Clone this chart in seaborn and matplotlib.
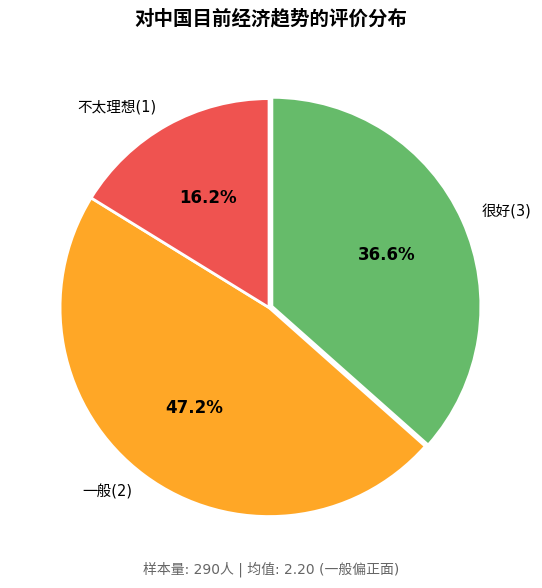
import matplotlib
matplotlib.use("Agg")
import matplotlib.pyplot as plt
import seaborn as sns

sns.set_theme(style="white")
plt.rcParams['font.family'] = ['DejaVu Sans', 'Noto Sans CJK SC']
plt.rcParams['text.color'] = 'black'

# 数据
labels = ['很好(3)', '一般(2)', '不太理想(1)']
counts = [106, 137, 47]
colors = ['#66BB6A', '#FFA726', '#EF5350']
explode = [0.015, 0, 0]

fig, ax = plt.subplots(figsize=(5.42, 5.88), dpi=100)
wedges, texts, autotexts = ax.pie(
    counts, labels=labels, colors=colors, explode=explode,
    autopct='%1.1f%%', startangle=90, counterclock=False,
    pctdistance=0.6, labeldistance=1.1,
    wedgeprops={'edgecolor': 'white', 'linewidth': 2},
    textprops={'fontsize': 10.5, 'color': 'black'})
for t in autotexts:
    t.set_fontsize(12)
    t.set_fontweight('bold')
    t.set_color('black')
ax.set_title('对中国目前经济趋势的评价分布', fontsize=14, fontweight='bold',
             pad=25, color='black')
ax.axis('equal')

total = sum(counts)
mean = (3*counts[0] + 2*counts[1] + 1*counts[2]) / total
fig.text(0.5, 0.025, f'样本量: {total}人 | 均值: {mean:.2f} (一般偏正面)',
         ha='center', fontsize=10, color='#666666')
plt.subplots_adjust(left=0.072, right=0.926, top=0.9, bottom=0.056)
plt.savefig('out.png', dpi=100)
